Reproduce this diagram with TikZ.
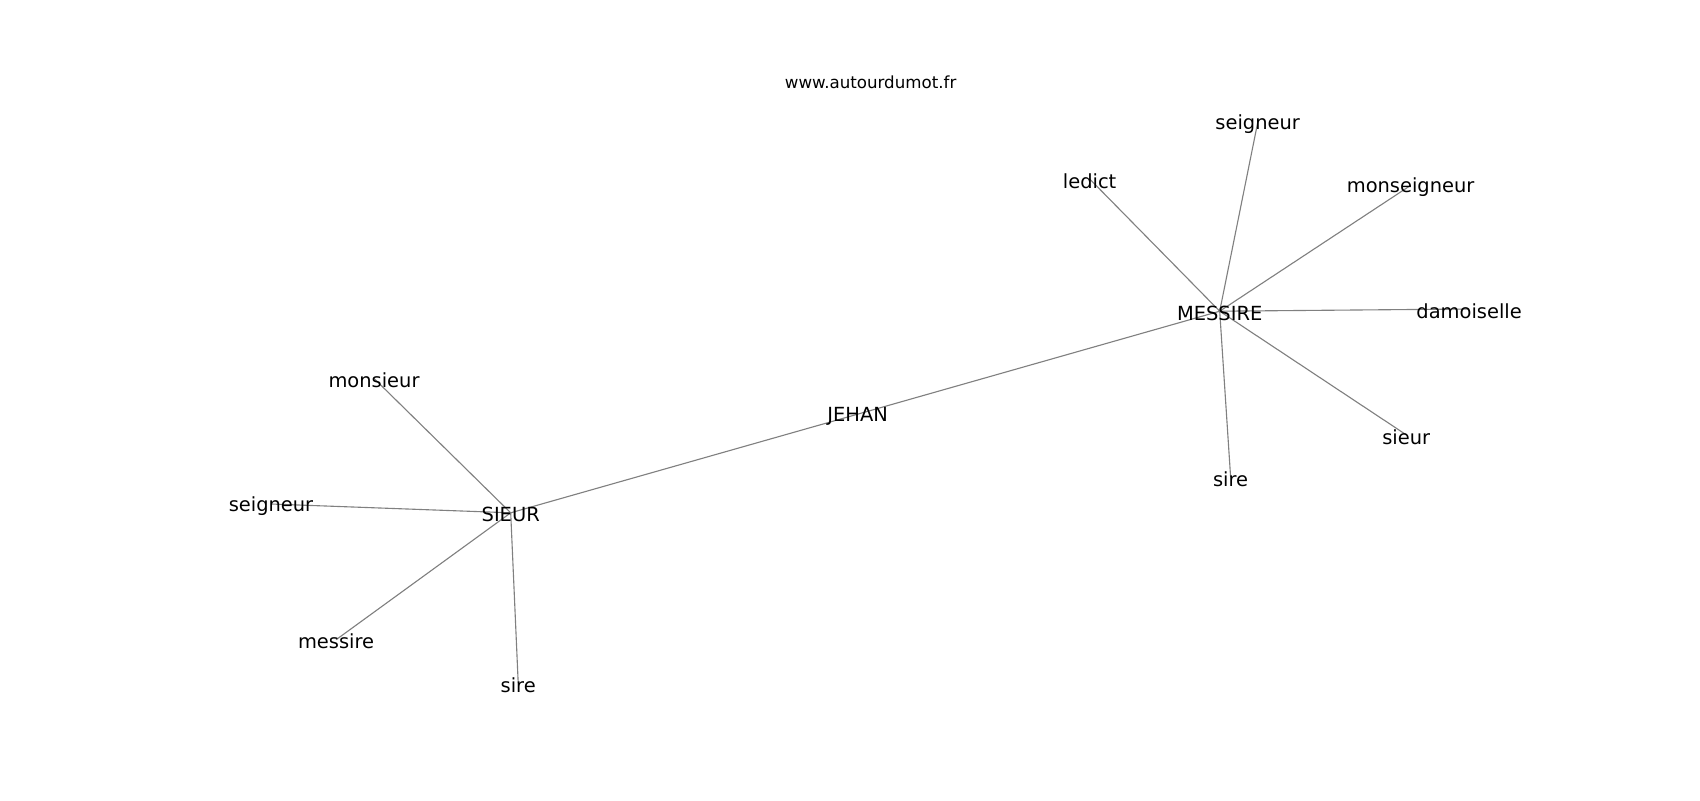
\documentclass[tikz,border=0pt]{standalone}
\usepackage{fontspec}
\setmainfont{DejaVu Sans}
\begin{document}
\begin{tikzpicture}[x=0.72pt,y=-0.72pt,
  lbl/.style={font=\fontsize{14}{16}\selectfont, inner sep=0pt, text=black, yshift=-1.4pt},
  small/.style={font=\fontsize{12}{14}\selectfont, inner sep=0pt, text=black},
  edge/.style={draw=black!50, line width=0.8pt}]
\useasboundingbox[fill=white] (0,0) rectangle (1700,800);
\coordinate (cWWW) at (870.6,82.4);
\coordinate (cMES) at (1219.7,311.2);
\coordinate (cSEIR) at (1257.7,122.5);
\coordinate (cLED) at (1089.6,178.9);
\coordinate (cMON) at (1410.6,185.4);
\coordinate (cDAM) at (1469.1,309);
\coordinate (cSIEUR) at (1406.2,434.8);
\coordinate (cSIRER) at (1230.6,477);
\coordinate (cJEH) at (857.6,414.2);
\coordinate (cMONS) at (374,378.4);
\coordinate (cSEIL) at (271,504);
\coordinate (cSIE) at (510.7,512.8);
\coordinate (cMESL) at (336.1,639.7);
\coordinate (cSIREL) at (518.2,683);
% edges
\draw[edge] (cMES) -- (cSEIR);
\draw[edge] (cMES) -- (cLED);
\draw[edge] (cMES) -- (cMON);
\draw[edge] (cMES) -- (cDAM);
\draw[edge] (cMES) -- (cSIEUR);
\draw[edge] (cMES) -- (cSIRER);
\draw[edge] (cMES) -- (cJEH);
\draw[edge] (cJEH) -- (cSIE);
\draw[edge] (cSIE) -- (cMONS);
\draw[edge] (cSIE) -- (cSEIL);
\draw[edge] (cSIE) -- (cMESL);
\draw[edge] (cSIE) -- (cSIREL);
% labels
\node[small] (www) at (cWWW) {www.autourdumot.fr};
\node[lbl] (mes) at (cMES) {MESSIRE};
\node[lbl] (seir) at (cSEIR) {seigneur};
\node[lbl] (led) at (cLED) {ledict};
\node[lbl] (mon) at (cMON) {monseigneur};
\node[lbl] (dam) at (cDAM) {damoiselle};
\node[lbl] (sieur) at (cSIEUR) {sieur};
\node[lbl] (sirer) at (cSIRER) {sire};
\node[lbl] (jeh) at (cJEH) {JEHAN};
\node[lbl] (mons) at (cMONS) {monsieur};
\node[lbl] (seil) at (cSEIL) {seigneur};
\node[lbl] (sie) at (cSIE) {SIEUR};
\node[lbl] (mesl) at (cMESL) {messire};
\node[lbl] (sirel) at (cSIREL) {sire};
\end{tikzpicture}
\end{document}
